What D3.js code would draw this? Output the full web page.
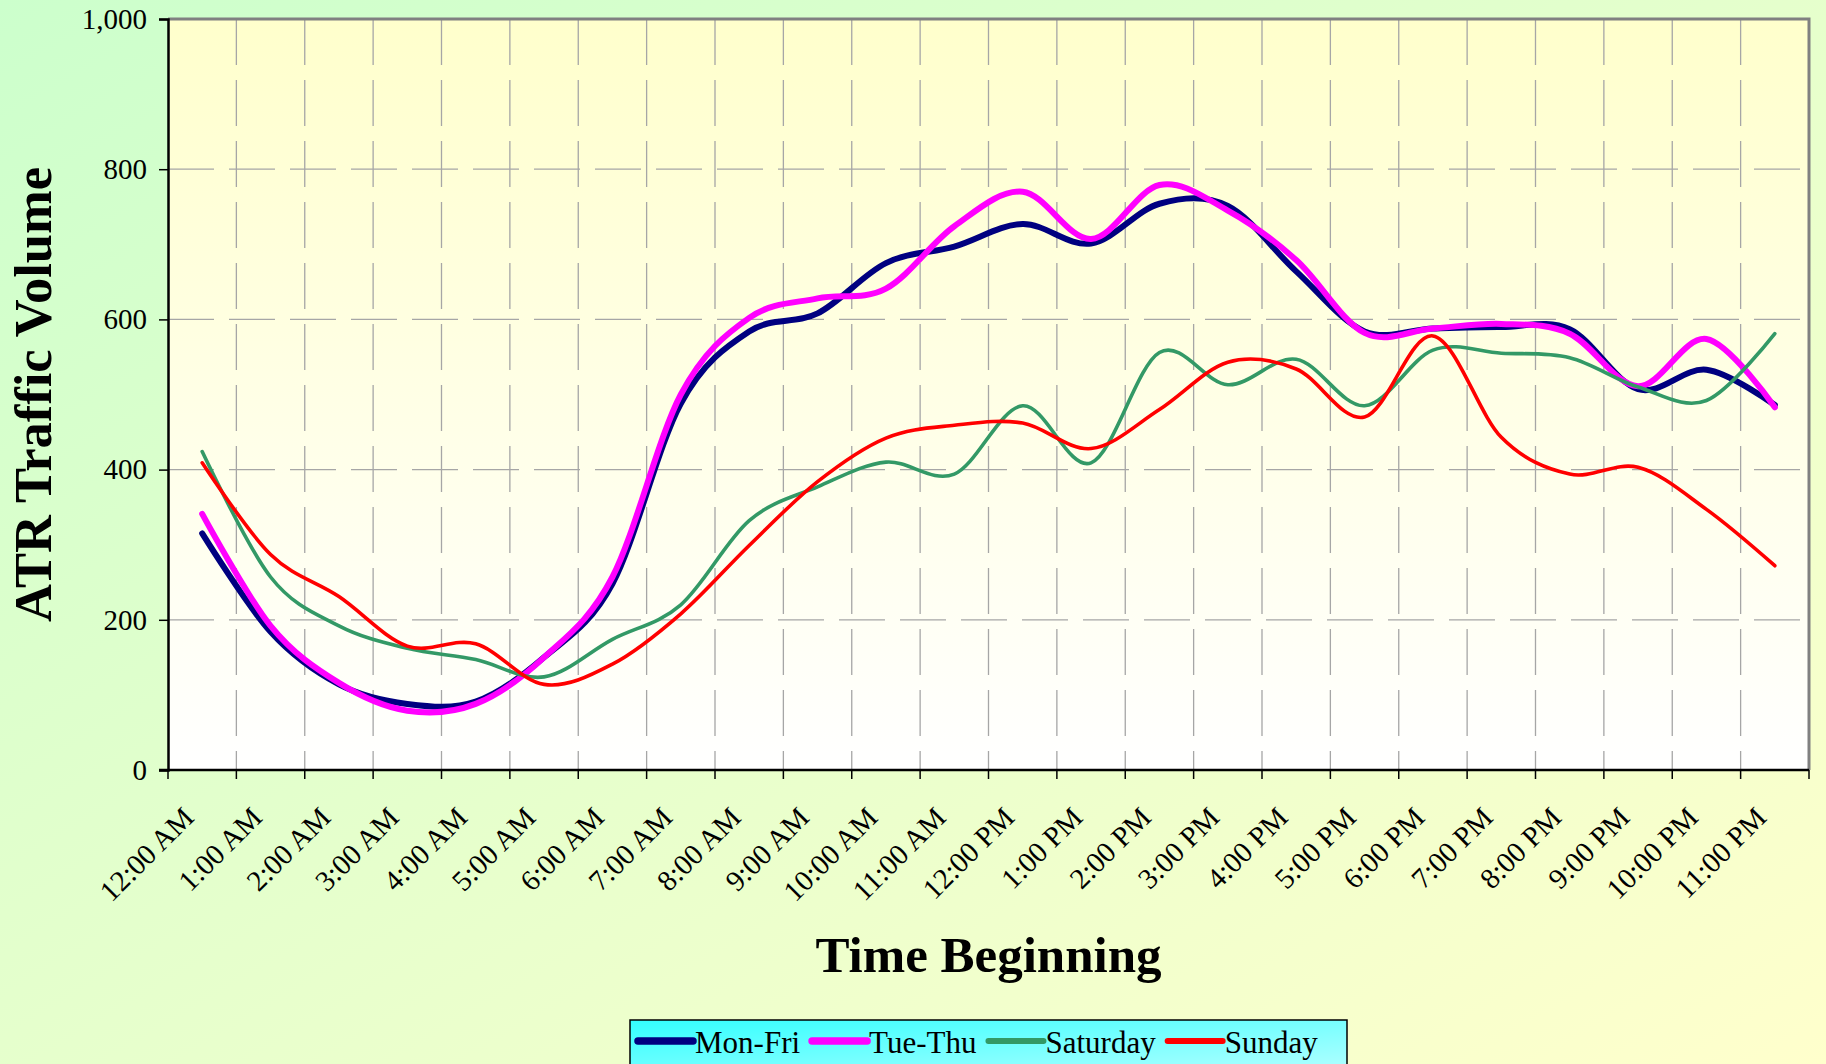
<!DOCTYPE html>
<html>
<head>
<meta charset="utf-8">
<script src="https://cdn.jsdelivr.net/npm/d3@7"></script>
<style>
  html, body { margin: 0; padding: 0; background: #fff; }
  svg { display: block; }
  text { font-family: "Liberation Serif", "Times New Roman", serif; fill: #000; }
</style>
</head>
<body>
<svg id="chart" width="1826" height="1064"></svg>
<script>
// hourly categories
var hours = ["12:00 AM", "1:00 AM", "2:00 AM", "3:00 AM", "4:00 AM", "5:00 AM",
    "6:00 AM", "7:00 AM", "8:00 AM", "9:00 AM", "10:00 AM", "11:00 AM",
    "12:00 PM", "1:00 PM", "2:00 PM", "3:00 PM", "4:00 PM", "5:00 PM",
    "6:00 PM", "7:00 PM", "8:00 PM", "9:00 PM", "10:00 PM", "11:00 PM"];

var monFri   = [315, 184, 114, 88, 91, 150, 248, 488, 584, 608, 675, 697, 727, 701, 754, 751, 664, 584, 588, 590, 587, 507, 533, 486];
var tueThu   = [341, 192, 116, 79, 88, 150, 257, 500, 602, 628, 641, 724, 770, 707, 779, 745, 679, 582, 588, 594, 581, 511, 574, 483];
var saturday = [424, 257, 192, 162, 147, 124, 174, 220, 332, 377, 410, 394, 485, 409, 556, 513, 547, 485, 559, 555, 549, 510, 492, 581];
var sunday   = [409, 287, 231, 165, 168, 114, 141, 208, 299, 384, 442, 459, 462, 428, 480, 543, 534, 470, 578, 443, 394, 403, 347, 272];

var yTicks = [0, 200, 400, 600, 800, 1000];

var seriesNames = ["Mon-Fri", "Tue-Thu", "Saturday", "Sunday"];
var seriesValues = [monFri, tueThu, saturday, sunday];

// styles per series
var styles = {
    "Mon-Fri":  { color: "#000080", width: 6 },
    "Tue-Thu":  { color: "#ff00ff", width: 6 },
    "Saturday": { color: "#339966", width: 3.6 },
    "Sunday":   { color: "#ff0000", width: 3.6 }
};

var W = 1826, H = 1064;
var plot = { left: 168, top: 19, right: 1809, bottom: 770 };

var svg = d3.select("#chart");
var defs = svg.append("defs");

// backgrounds
var bg = defs.append("linearGradient").attr("id", "bg")
    .attr("x1", "0%").attr("y1", "0%").attr("x2", "100%").attr("y2", "100%");
bg.append("stop").attr("offset", "0%").attr("stop-color", "#ccffcc");
bg.append("stop").attr("offset", "100%").attr("stop-color", "#ffffcc");

var pbg = defs.append("linearGradient").attr("id", "pbg")
    .attr("x1", "0%").attr("y1", "0%").attr("x2", "0%").attr("y2", "100%");
pbg.append("stop").attr("offset", "0%").attr("stop-color", "#ffffcc");
pbg.append("stop").attr("offset", "100%").attr("stop-color", "#ffffff");

var lbg = defs.append("linearGradient").attr("id", "lbg")
    .attr("x1", "0%").attr("y1", "0%").attr("x2", "100%").attr("y2", "100%");
lbg.append("stop").attr("offset", "0%").attr("stop-color", "#33ffff");
lbg.append("stop").attr("offset", "100%").attr("stop-color", "#bbffff");

svg.append("rect").attr("width", W).attr("height", H).attr("fill", "url(#bg)");

svg.append("rect")
    .attr("x", plot.left).attr("y", plot.top)
    .attr("width", plot.right - plot.left).attr("height", plot.bottom - plot.top)
    .attr("fill", "url(#pbg)");

// scales
var x = d3.scaleBand().domain(hours).range([plot.left, plot.right]).padding(0);
var y = d3.scaleLinear().domain([0, 1000]).range([plot.bottom, plot.top]);
var cx = function(i) { return x(hours[i]) + x.bandwidth() / 2; };

// grid
var grid = svg.append("g").attr("class", "grid")
    .attr("stroke", "#a6a6a6").attr("stroke-width", 1.3).attr("stroke-dasharray", "46,15");

grid.selectAll("line.v").data(hours.slice(1)).enter().append("line")
    .attr("class", "v")
    .attr("x1", function(d) { return x(d); }).attr("x2", function(d) { return x(d); })
    .attr("y1", plot.top).attr("y2", plot.bottom);

grid.selectAll("line.h").data(yTicks.filter(function(v) { return v > 0 && v < 1000; })).enter().append("line")
    .attr("class", "h")
    .attr("x1", plot.left).attr("x2", plot.right)
    .attr("y1", function(d) { return y(d); }).attr("y2", function(d) { return y(d); });

// plot border top/right
svg.append("path")
    .attr("d", "M" + plot.left + "," + plot.top + "H" + plot.right + "V" + plot.bottom)
    .attr("fill", "none").attr("stroke", "#808080").attr("stroke-width", 3);

// lines
var line = d3.line()
    .x(function(d, i) { return cx(i); })
    .y(function(d) { return y(d); })
    .curve(d3.curveCatmullRom.alpha(0));

svg.append("g").attr("class", "series")
    .selectAll("path").data(seriesNames).enter().append("path")
    .attr("d", function(d, i) { return line(seriesValues[i]); })
    .attr("fill", "none")
    .attr("stroke", function(d) { return styles[d].color; })
    .attr("stroke-width", function(d) { return styles[d].width; })
    .attr("stroke-linecap", "round")
    .attr("stroke-linejoin", "round");

// y axis
var yAxis = d3.axisLeft(y).tickValues(yTicks).tickFormat(d3.format(",")).tickSize(9).tickPadding(12);
var gy = svg.append("g").attr("transform", "translate(" + plot.left + ",0)").call(yAxis);
gy.select(".domain").attr("stroke", "#000").attr("stroke-width", 2.5);
gy.selectAll(".tick line").attr("stroke", "#000").attr("stroke-width", 1.5);
gy.selectAll(".tick text").attr("font-size", 29)
    .attr("font-family", "'Liberation Serif', 'Times New Roman', serif");

// x axis: tick marks at category boundaries
var bounds = hours.map(function(d) { return x(d); }).concat([plot.right]);
svg.append("g").selectAll("line").data(bounds).enter().append("line")
    .attr("x1", function(d) { return d; }).attr("x2", function(d) { return d; })
    .attr("y1", plot.bottom).attr("y2", plot.bottom + 9)
    .attr("stroke", "#000").attr("stroke-width", 1.5);
svg.append("line")
    .attr("x1", plot.left - 9).attr("x2", plot.right)
    .attr("y1", plot.bottom).attr("y2", plot.bottom)
    .attr("stroke", "#000").attr("stroke-width", 2.5);

svg.append("g").attr("class", "xlabels")
    .selectAll("text").data(hours).enter().append("text")
    .attr("transform", function(d, i) { return "translate(" + (cx(i) - 14) + "," + (plot.bottom + 42) + ") rotate(-45)"; })
    .attr("text-anchor", "end")
    .attr("dy", "0.35em")
    .attr("font-size", 29)
    .text(function(d) { return d; });

// axis titles
svg.append("text")
    .attr("x", (plot.left + plot.right) / 2).attr("y", 972)
    .attr("text-anchor", "middle")
    .attr("font-size", 51).attr("font-weight", "bold")
    .text("Time Beginning");

svg.append("text")
    .attr("transform", "translate(51," + ((plot.top + plot.bottom) / 2) + ") rotate(-90)")
    .attr("text-anchor", "middle")
    .attr("font-size", 52.5).attr("font-weight", "bold")
    .text("ATR Traffic Volume");

// legend
var legend = svg.append("g").attr("class", "legend");
legend.append("rect")
    .attr("x", 630).attr("y", 1020).attr("width", 717).attr("height", 60)
    .attr("fill", "url(#lbg)").attr("stroke", "#000").attr("stroke-width", 1.5);

var lx = 638;
seriesNames.forEach(function(name) {
    legend.append("line")
        .attr("x1", lx).attr("x2", lx + 55)
        .attr("y1", 1041).attr("y2", 1041)
        .attr("stroke", styles[name].color)
        .attr("stroke-width", name === "Mon-Fri" || name === "Tue-Thu" ? 7.5 : 6)
        .attr("stroke-linecap", "round");
    var t = legend.append("text")
        .attr("x", lx + 57).attr("y", 1053)
        .attr("font-size", 31)
        .text(name);
    lx = lx + 57 + t.node().getComputedTextLength() + 12;
});
</script>
</body>
</html>
